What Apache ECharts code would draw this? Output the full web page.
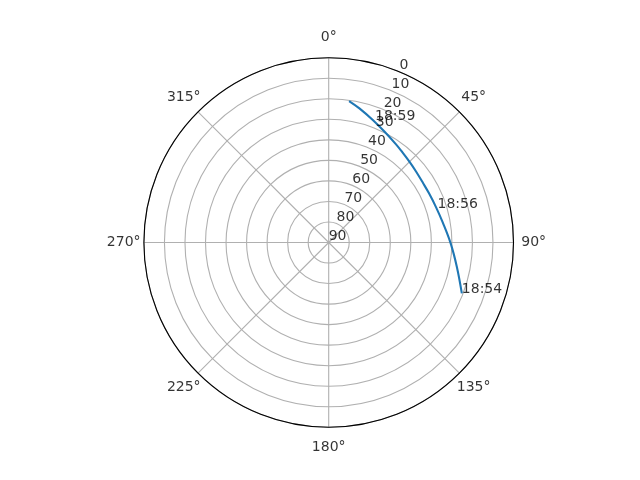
<!DOCTYPE html>
<html>
<head>
<meta charset="utf-8">
<script src="https://cdn.jsdelivr.net/npm/echarts@6/dist/echarts.min.js"></script>
<style>html,body{margin:0;padding:0;background:#fff;}#c{width:640px;height:480px;}</style>
</head>
<body>
<div id="c"></div>
<script>
// Satellite pass track (azimuth in degrees clockwise from north, elevation in degrees)
var azimuth   = [110.9, 100.7, 90.4, 79.6, 71.6, 63.9, 57.9, 50.9, 45.1, 38.9, 34.3, 26.8, 19.8, 12.9, 8.2];
var elevation = [20.6, 26.5, 30.6, 33.7, 35.0, 35.6, 35.7, 35.2, 34.4, 33.2, 32.0, 29.6, 26.6, 23.0, 20.4];
// Time annotations
var timeLabels = ['18:54', '18:56', '18:59'];
var timeAz     = [110.9, 72.4, 20.8];
var timeEl     = [20.6, 34.4, 26.5];
// Axis ticks
var radialTicks = [0, 10, 20, 30, 40, 50, 60, 70, 80, 90];
var radialLabelAngle = 22.5;
var angleTicks = [0, 45, 90, 135, 180, 225, 270, 315];

var FONT = 'DejaVu Sans';
var center = ['51.36%', '50.52%'];

var chart = echarts.init(document.getElementById('c'), null, {renderer: 'canvas'});
chart.setOption({
  backgroundColor: '#ffffff',
  animation: false,
  polar: [
    {center: center, radius: 184.8},
    {center: center, radius: 205}
  ],
  angleAxis: [
    {
      polarIndex: 0, type: 'value', min: 0, max: 360, interval: 45,
      startAngle: 90, clockwise: true,
      axisLine: {show: true, lineStyle: {color: '#000000', width: 1.1}},
      axisTick: {show: false},
      axisLabel: {show: false},
      splitLine: {show: true, lineStyle: {color: '#b0b0b0', width: 1.1}},
      z: 1
    },
    {
      polarIndex: 1, type: 'value', min: 0, max: 360, interval: 45,
      startAngle: 90, clockwise: true, show: false
    }
  ],
  radiusAxis: [
    {
      polarIndex: 0, type: 'value', min: 0, max: 90, interval: 10, inverse: true,
      axisLine: {show: false}, axisTick: {show: false}, axisLabel: {show: false},
      splitLine: {show: true, showMinLine: false, lineStyle: {color: '#b0b0b0', width: 1.1}},
      z: 0
    },
    {
      polarIndex: 1, type: 'value', min: 0, max: 1, show: false
    }
  ],
  series: [
    {
      type: 'line', coordinateSystem: 'polar', polarIndex: 0,
      data: azimuth.map(function (a, i) { return [elevation[i], a]; }),
      showSymbol: false, smooth: 0.4,
      lineStyle: {color: '#1f77b4', width: 2.1},
      z: 3
    },
    {
      type: 'scatter', coordinateSystem: 'polar', polarIndex: 0,
      data: radialTicks.map(function (t) { return [t, radialLabelAngle]; }),
      symbolSize: 0,
      label: {
        show: true, position: [0, 1], align: 'left', verticalAlign: 'bottom',
        formatter: function (p) { return String(p.value[0]); },
        color: '#000000', fontFamily: FONT, fontSize: 14
      },
      z: 4
    },
    {
      type: 'scatter', coordinateSystem: 'polar', polarIndex: 0,
      data: timeLabels.map(function (t, i) { return {name: t, value: [timeEl[i], timeAz[i]]}; }),
      symbolSize: 0,
      label: {
        show: true, position: [0, 3], align: 'left', verticalAlign: 'bottom',
        formatter: function (p) { return p.name; },
        color: '#000000', fontFamily: FONT, fontSize: 14
      },
      z: 5
    },
    {
      type: 'scatter', coordinateSystem: 'polar', polarIndex: 1,
      data: angleTicks.map(function (a) { return [1, a]; }),
      symbolSize: 0,
      label: {
        show: true, position: [0, 0], align: 'center', verticalAlign: 'middle',
        formatter: function (p) { return p.value[1] + '°'; },
        color: '#000000', fontFamily: FONT, fontSize: 14
      },
      z: 5
    }
  ]
});
</script>
</body>
</html>
